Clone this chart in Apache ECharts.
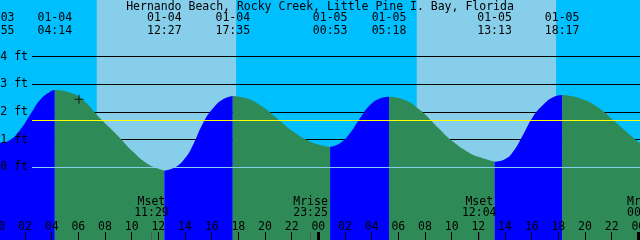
<!DOCTYPE html>
<html>
<head>
<meta charset="utf-8">
<title>Hernando Beach tide</title>
<script src="https://cdn.jsdelivr.net/npm/echarts@6/dist/echarts.min.js"></script>
<style>
    html, body { margin: 0; padding: 0; background: #00BFFF; }
    #chart { width: 640px; height: 240px; }
</style>
</head>
<body>
<div id="chart"></div>
<script>
// time in hours from 01-04 00:00, height in feet
var tideTimes = [-0.083, 0.125, 0.875, 1.625, 2.375, 3.125, 3.875, 4.233, 5.375, 6.35, 7.625, 8.9, 10.1, 11.15, 12.125, 12.45,
    13.25, 14.0, 14.6, 15.35, 16.1, 16.85, 17.583, 18.65, 19.625, 20.9, 22.1, 23.375, 24.125, 24.883,
    25.625, 26.375, 27.125, 27.875, 28.625, 29.3, 30.35, 31.625, 32.9, 34.1, 35.375, 36.125, 37.217,
    38.0, 38.6, 39.35, 40.1, 40.85, 41.6, 42.283, 43.625, 44.9, 46.1, 47.375, 48.125];
var tideHeights = [0.87, 0.89, 0.99, 1.35, 1.89, 2.43, 2.73, 2.79, 2.70, 2.43, 1.77, 1.17, 0.56, 0.14, -0.07, -0.12,
    0.0, 0.33, 0.81, 1.59, 2.13, 2.46, 2.58, 2.49, 2.25, 1.77, 1.29, 0.93, 0.81, 0.74,
    0.87, 1.23, 1.77, 2.25, 2.49, 2.55, 2.46, 2.07, 1.47, 0.93, 0.51, 0.36, 0.20,
    0.29, 0.56, 1.17, 1.83, 2.25, 2.53, 2.61, 2.49, 2.19, 1.71, 1.17, 0.87];

// highs and lows
var eventTimes = [-0.083, 4.233, 12.45, 17.583, 24.883, 29.3, 37.217, 42.283];
var eventDates = ['01-03', '01-04', '01-04', '01-04', '01-05', '01-05', '01-05', '01-05'];
var eventClock = ['23:55', '04:14', '12:27', '17:35', '00:53', '05:18', '13:13', '18:17'];

var moonTimes = [11.483, 23.417, 36.067, 48.45];
var moonNames = ['Mset', 'Mrise', 'Mset', 'Mrise'];
var moonClock = ['11:29', '23:25', '12:04', '00:27'];

var dayStart = [7.38, 31.38];
var dayEnd = [17.83, 41.83];
var midnights = [0, 24, 48];

var footTicks = [0, 1, 2, 3, 4];
var gridFeet = [1, 2, 3, 4];
var meanLevel = 1.70;
var nowMark = [6.05, 2.46];

var FONT = 'DejaVu Sans Mono';
var FS = 11.5;

function nearest(arr, v) {
    var best = 0;
    for (var i = 1; i < arr.length; i++) {
        if (Math.abs(arr[i] - v) < Math.abs(arr[best] - v)) best = i;
    }
    return best;
}

// split the curve into rising (blue) and falling (green) pieces
var segments = [];
var cuts = eventTimes.map(function (t) { return nearest(tideTimes, t); });
cuts.push(tideTimes.length - 1);
for (var s = 0; s < cuts.length - 1; s++) {
    var pts = [];
    for (var k = cuts[s]; k <= cuts[s + 1]; k++) pts.push([tideTimes[k], tideHeights[k]]);
    var rising = tideHeights[cuts[s + 1]] > tideHeights[cuts[s]];
    segments.push({
        type: 'line',
        xAxisIndex: 0,
        yAxisIndex: 0,
        data: pts,
        smooth: true,
        symbol: 'none',
        silent: true,
        lineStyle: {width: 0},
        areaStyle: {color: rising ? '#0000FF' : '#2E8B57', opacity: 1, origin: 'start'},
        z: 3
    });
}

var xMin = -2, xMax = 48.75;
var yMin = -2.627, yMax = 6.046;
var txt = {color: '#000', fontFamily: FONT, fontSize: FS};
var noLine = {show: false, onZero: false};

var myChart = echarts.init(document.getElementById('chart'));
myChart.setOption({
    animation: false,
    backgroundColor: '#00BFFF',
    title: {
        text: 'Hernando Beach, Rocky Creek, Little Pine I. Bay, Florida',
        left: 'center',
        top: 1,
        padding: 0,
        textStyle: {color: '#000', fontFamily: FONT, fontSize: FS, fontWeight: 'normal'}
    },
    grid: [
        {left: -28.33, right: -8.33, top: 0, bottom: 0, outerBoundsMode: 'none'},
        {left: 32, right: 0, top: 0, bottom: 0, outerBoundsMode: 'none'}
    ],
    xAxis: [
        {   // hour ticks
            gridIndex: 0, type: 'value', min: xMin, max: xMax, interval: 2, position: 'bottom', z: 10,
            axisLine: noLine, splitLine: {show: false},
            axisTick: {inside: true, length: 8, lineStyle: {color: '#000', width: 1}},
            axisLabel: Object.assign({
                inside: true, margin: 7, showMinLabel: true, showMaxLabel: true, hideOverlap: false,
                formatter: function (v) {
                    if (v % 2 !== 0) return '';
                    var h = ((v % 24) + 24) % 24;
                    return (h < 10 ? '0' : '') + h;
                }
            }, txt)
        },
        {   // midnight ticks
            gridIndex: 0, type: 'value', min: xMin, max: xMax, position: 'bottom', z: 10,
            axisLine: noLine, splitLine: {show: false}, axisLabel: {show: false},
            axisTick: {inside: true, length: 8, customValues: midnights, lineStyle: {color: '#000', width: 3}}
        },
        {   // moon events
            gridIndex: 0, type: 'value', min: xMin, max: xMax, position: 'bottom', z: 10,
            axisLine: noLine, splitLine: {show: false},
            axisTick: {inside: true, length: 8, customValues: moonTimes, lineStyle: {color: '#555', width: 1}},
            axisLabel: Object.assign({
                inside: true, margin: 21, customValues: moonTimes, lineHeight: 11,
                formatter: function (v) {
                    var i = nearest(moonTimes, v);
                    return moonNames[i] + '\n' + moonClock[i];
                }
            }, txt)
        },
        {   // tide events on top
            gridIndex: 0, type: 'value', min: xMin, max: xMax, position: 'top', z: 10,
            axisLine: noLine, splitLine: {show: false}, axisTick: {show: false},
            axisLabel: Object.assign({
                inside: true, margin: 12, customValues: eventTimes, lineHeight: 12.5,
                formatter: function (v) {
                    var i = nearest(eventTimes, v);
                    return eventDates[i] + '\n' + eventClock[i];
                }
            }, txt)
        },
        {gridIndex: 1, type: 'value', min: 0, max: 1, show: false, axisLine: noLine, splitLine: {show: false}}
    ],
    yAxis: [
        {gridIndex: 0, type: 'value', min: yMin, max: yMax, show: false, axisLine: noLine, splitLine: {show: false}},
        {
            gridIndex: 1, type: 'value', min: yMin, max: yMax, z: 10,
            axisLine: noLine, axisTick: {show: false}, splitLine: {show: false},
            axisLabel: Object.assign({
                margin: 4, customValues: footTicks,
                formatter: function (v) { return v + ' ft'; }
            }, txt)
        }
    ],
    series: [
        {   // daylight bands
            type: 'line', xAxisIndex: 0, yAxisIndex: 0, data: [], silent: true,
            markArea: {
                silent: true, z: 0,
                itemStyle: {color: '#87CEEB'},
                data: dayStart.map(function (t, i) { return [{xAxis: t}, {xAxis: dayEnd[i]}]; })
            }
        },
        {   // foot lines behind the water
            type: 'line', xAxisIndex: 4, yAxisIndex: 1, data: [], silent: true,
            markLine: {
                silent: true, z: 2, symbol: 'none', label: {show: false},
                lineStyle: {color: '#000', width: 1, type: 'solid'},
                data: gridFeet.map(function (v) { return {yAxis: v}; })
            }
        }
    ].concat(segments).concat([
        {   // mean level + datum in front
            type: 'line', xAxisIndex: 4, yAxisIndex: 1, data: [], silent: true,
            markLine: {
                silent: true, z: 4, symbol: 'none', label: {show: false},
                data: [
                    {yAxis: meanLevel, lineStyle: {color: '#FFFF00', width: 1, type: 'solid'}},
                    {yAxis: 0, lineStyle: {color: '#87CEEB', width: 1, type: 'solid'}}
                ]
            }
        },
        {
            type: 'scatter', xAxisIndex: 0, yAxisIndex: 0, z: 5, silent: true,
            symbol: 'path://M0,4h9v1h-9zM4,0h1v9h-1z', symbolSize: 9,
            itemStyle: {color: '#000'},
            data: [nowMark]
        }
    ])
});
</script>
</body>
</html>
